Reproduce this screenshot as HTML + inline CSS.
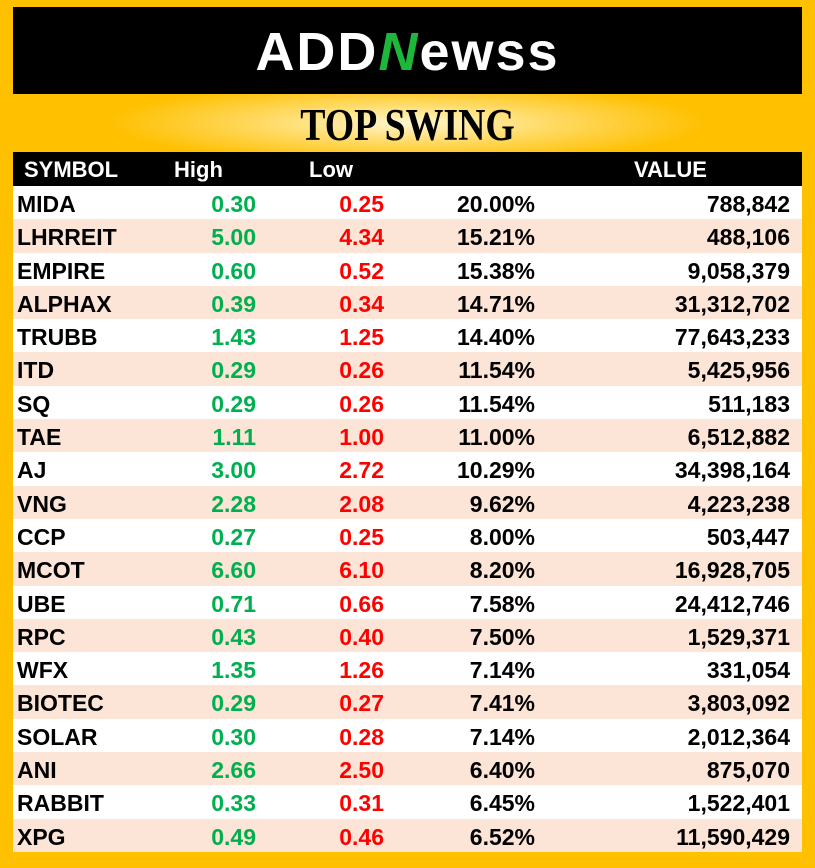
<!DOCTYPE html>
<html><head><style>
*{margin:0;padding:0;box-sizing:border-box}
body{width:815px;height:868px;background:#ffc000;position:relative;overflow:hidden;font-family:"Liberation Sans",sans-serif}
.top{position:absolute;left:13px;top:7px;width:789px;height:87px;background:#000}
.logo{position:absolute;left:0;right:0;top:14px;text-align:center;color:#fff;font-weight:bold;font-size:54px;letter-spacing:2px}
.logo .n{color:#1db83a;font-style:italic}
.title{position:absolute;left:0;top:94px;width:815px;height:58px;background:radial-gradient(ellipse 300px 40px at 50% 50%,#fff6d0 0%,#ffd960 50%,#ffc000 100%)}
.title div{position:absolute;left:0;right:0;top:5px;text-align:center;font-family:"Liberation Serif",serif;font-weight:bold;font-size:45px;transform:scaleX(0.84)}
.tbl{position:absolute;left:13px;top:152px;width:789px}
.hd{height:34px;background:#000;color:#fff;font-weight:bold;font-size:22px;position:relative}
.hd span{position:absolute;top:5px}
.r{height:33.3px;position:relative;font-weight:bold;font-size:23px;background:#fff}
.r:nth-child(odd){background:#fce4d6}
.r span{position:absolute;top:5px}
.s{left:4px}.h{right:546px;color:#00b050}.l{right:418px;color:#ff0000}.p{right:267px}.v{right:12px}
</style></head><body>
<div class="top"><div class="logo">ADD<span class="n">N</span>ewss</div></div>
<div class="title"><div>TOP SWING</div></div>
<div class="tbl">
<div class="hd"><span style="left:11px">SYMBOL</span><span style="left:161px">High</span><span style="left:296px">Low</span><span style="left:621px">VALUE</span></div>
<div class="r"><span class="s">MIDA</span><span class="h">0.30</span><span class="l">0.25</span><span class="p">20.00%</span><span class="v">788,842</span></div>
<div class="r"><span class="s">LHRREIT</span><span class="h">5.00</span><span class="l">4.34</span><span class="p">15.21%</span><span class="v">488,106</span></div>
<div class="r"><span class="s">EMPIRE</span><span class="h">0.60</span><span class="l">0.52</span><span class="p">15.38%</span><span class="v">9,058,379</span></div>
<div class="r"><span class="s">ALPHAX</span><span class="h">0.39</span><span class="l">0.34</span><span class="p">14.71%</span><span class="v">31,312,702</span></div>
<div class="r"><span class="s">TRUBB</span><span class="h">1.43</span><span class="l">1.25</span><span class="p">14.40%</span><span class="v">77,643,233</span></div>
<div class="r"><span class="s">ITD</span><span class="h">0.29</span><span class="l">0.26</span><span class="p">11.54%</span><span class="v">5,425,956</span></div>
<div class="r"><span class="s">SQ</span><span class="h">0.29</span><span class="l">0.26</span><span class="p">11.54%</span><span class="v">511,183</span></div>
<div class="r"><span class="s">TAE</span><span class="h">1.11</span><span class="l">1.00</span><span class="p">11.00%</span><span class="v">6,512,882</span></div>
<div class="r"><span class="s">AJ</span><span class="h">3.00</span><span class="l">2.72</span><span class="p">10.29%</span><span class="v">34,398,164</span></div>
<div class="r"><span class="s">VNG</span><span class="h">2.28</span><span class="l">2.08</span><span class="p">9.62%</span><span class="v">4,223,238</span></div>
<div class="r"><span class="s">CCP</span><span class="h">0.27</span><span class="l">0.25</span><span class="p">8.00%</span><span class="v">503,447</span></div>
<div class="r"><span class="s">MCOT</span><span class="h">6.60</span><span class="l">6.10</span><span class="p">8.20%</span><span class="v">16,928,705</span></div>
<div class="r"><span class="s">UBE</span><span class="h">0.71</span><span class="l">0.66</span><span class="p">7.58%</span><span class="v">24,412,746</span></div>
<div class="r"><span class="s">RPC</span><span class="h">0.43</span><span class="l">0.40</span><span class="p">7.50%</span><span class="v">1,529,371</span></div>
<div class="r"><span class="s">WFX</span><span class="h">1.35</span><span class="l">1.26</span><span class="p">7.14%</span><span class="v">331,054</span></div>
<div class="r"><span class="s">BIOTEC</span><span class="h">0.29</span><span class="l">0.27</span><span class="p">7.41%</span><span class="v">3,803,092</span></div>
<div class="r"><span class="s">SOLAR</span><span class="h">0.30</span><span class="l">0.28</span><span class="p">7.14%</span><span class="v">2,012,364</span></div>
<div class="r"><span class="s">ANI</span><span class="h">2.66</span><span class="l">2.50</span><span class="p">6.40%</span><span class="v">875,070</span></div>
<div class="r"><span class="s">RABBIT</span><span class="h">0.33</span><span class="l">0.31</span><span class="p">6.45%</span><span class="v">1,522,401</span></div>
<div class="r"><span class="s">XPG</span><span class="h">0.49</span><span class="l">0.46</span><span class="p">6.52%</span><span class="v">11,590,429</span></div>
</div>
</body></html>
